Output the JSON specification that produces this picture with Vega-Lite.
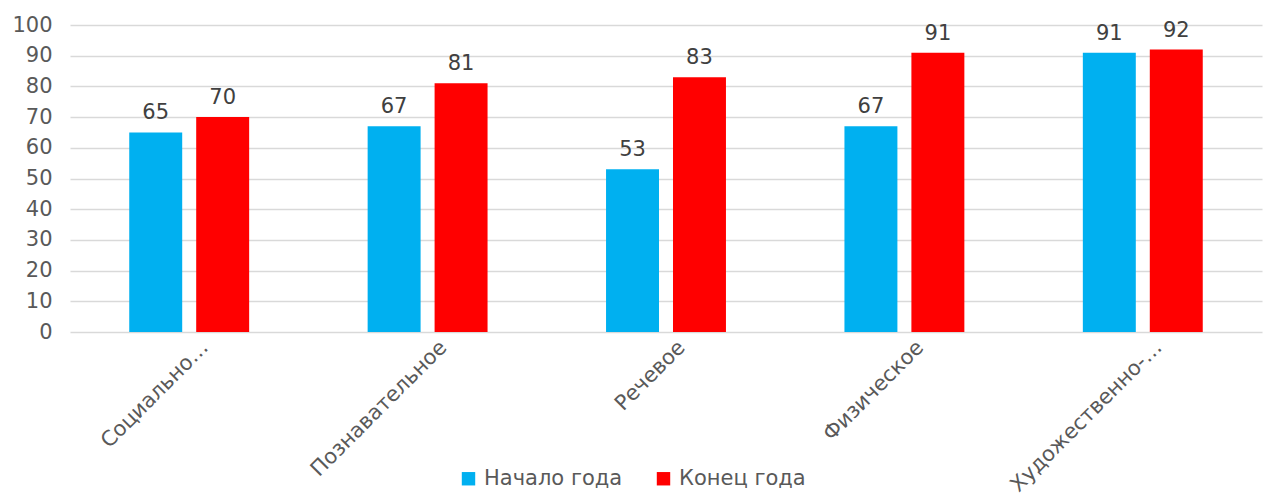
{
  "$schema": "https://vega.github.io/schema/vega-lite/v6.json",
  "width": 1192,
  "height": 307,
  "autosize": {"type": "none"},
  "padding": {"left": 70, "top": 25, "right": 3, "bottom": 170},
  "background": "white",
  "config": {
    "view": {"stroke": null},
    "font": "DejaVu Sans",
    "axis": {"labelFont": "DejaVu Sans", "labelColor": "#595959"},
    "legend": {"labelFont": "DejaVu Sans"}
  },
  "data": {
    "values": [
      {"category": "Социально-коммуникативное", "series": "Начало года", "value": 65},
      {"category": "Социально-коммуникативное", "series": "Конец года", "value": 70},
      {"category": "Познавательное", "series": "Начало года", "value": 67},
      {"category": "Познавательное", "series": "Конец года", "value": 81},
      {"category": "Речевое", "series": "Начало года", "value": 53},
      {"category": "Речевое", "series": "Конец года", "value": 83},
      {"category": "Физическое", "series": "Начало года", "value": 67},
      {"category": "Физическое", "series": "Конец года", "value": 91},
      {"category": "Художественно-эстетическое", "series": "Начало года", "value": 91},
      {"category": "Художественно-эстетическое", "series": "Конец года", "value": 92}
    ]
  },
  "encoding": {
    "x": {
      "field": "category",
      "type": "nominal",
      "sort": null,
      "scale": {"paddingInner": 0.497, "paddingOuter": 0.2485},
      "axis": {
        "title": null,
        "labelAngle": -45,
        "labelAlign": "right",
        "labelBaseline": "middle",
        "labelFontSize": 21,
        "labelLimit": 400,
        "labelOffset": 16,
        "labelPadding": 12,
        "domain": false,
        "ticks": false,
        "grid": false,
        "labelExpr": "datum.label == 'Социально-коммуникативное' ? 'Социально…' : datum.label == 'Художественно-эстетическое' ? 'Художественно-…' : datum.label"
      }
    },
    "xOffset": {
      "field": "series",
      "type": "nominal",
      "sort": ["Начало года", "Конец года"],
      "scale": {"paddingInner": 0.209, "paddingOuter": 0}
    },
    "y": {
      "field": "value",
      "type": "quantitative",
      "scale": {"domain": [0, 100], "nice": false},
      "axis": {
        "title": null,
        "values": [0, 10, 20, 30, 40, 50, 60, 70, 80, 90, 100],
        "domain": false,
        "ticks": false,
        "grid": true,
        "gridColor": "#D9D9D9",
        "gridWidth": 1.5,
        "labelFontSize": 21,
        "labelPadding": 18
      }
    }
  },
  "layer": [
    {
      "mark": {"type": "bar"},
      "encoding": {
        "color": {
          "field": "series",
          "type": "nominal",
          "sort": ["Начало года", "Конец года"],
          "scale": {"domain": ["Начало года", "Конец года"], "range": ["#00B0F0", "#FF0000"]},
          "legend": {
            "title": null,
            "orient": "none",
            "direction": "horizontal",
            "legendX": 388,
            "legendY": 443,
            "symbolType": "square",
            "symbolSize": 180,
            "symbolStrokeWidth": 0,
            "labelFontSize": 21,
            "labelColor": "#595959",
            "columnPadding": 30,
            "labelOffset": 5,
            "labelLimit": 300
          }
        }
      }
    },
    {
      "mark": {"type": "text", "baseline": "bottom", "dy": -9, "fontSize": 21, "color": "#404040"},
      "encoding": {
        "text": {"field": "value", "type": "quantitative"}
      }
    }
  ]
}
